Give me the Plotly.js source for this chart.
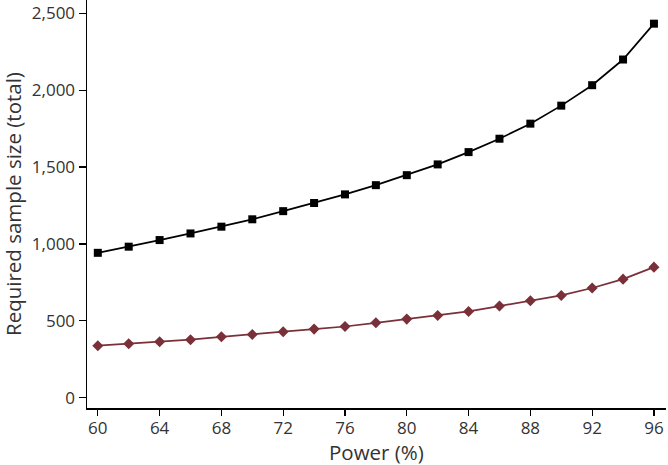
<!DOCTYPE html>
<html>
<head>
<meta charset="utf-8">
<script src="https://cdn.plot.ly/plotly-3.0.1.min.js"></script>
<style>html,body{margin:0;padding:0;background:#fff;}#chart{width:668px;height:465px;}</style>
</head>
<body>
<div id="chart"></div>
<script>
const power = [60, 62, 64, 66, 68, 70, 72, 74, 76, 78, 80, 82, 84, 86, 88, 90, 92, 94, 96];
const seriesA = [942, 982, 1025, 1068, 1112, 1160, 1213, 1266, 1322, 1382, 1447, 1517, 1597, 1684, 1782, 1899, 2032, 2199, 2432];
const seriesB = [338, 351, 364, 377, 396, 411, 429, 446, 463, 487, 511, 535, 561, 596, 630, 665, 713, 771, 849];
const xTicks = [60, 64, 68, 72, 76, 80, 84, 88, 92, 96];
const yTicks = [0, 500, 1000, 1500, 2000, 2500];
const xTitle = 'Power (%)';
const yTitle = 'Required sample size (total)';

const traces = [
  {x: power, y: seriesA, type: 'scatter', mode: 'lines+markers',
   line: {color: '#000000', width: 1.7},
   marker: {symbol: 'square', size: 8, color: '#000000'}},
  {x: power, y: seriesB, type: 'scatter', mode: 'lines+markers',
   line: {color: '#7a3038', width: 1.7},
   marker: {symbol: 'diamond', size: 8.5, color: '#7a3038'}}
];

const fam = '"Open Sans", "Noto Sans", sans-serif';
const tickFont = {family: fam, size: 17, color: '#333333'};
const titleFont = {family: fam, size: 20.5, color: '#333333'};
const W = 668, H = 465, L = 87, R = 2, T = 0, B = 57;
const pw = W - L - R, ph = H - T - B;
const layout = {
  width: W, height: H,
  margin: {l: L, r: R, t: T, b: B},
  paper_bgcolor: '#ffffff', plot_bgcolor: '#ffffff',
  showlegend: false,
  font: tickFont,
  xaxis: {
    range: [59.3, 96.78], tickvals: xTicks, ticktext: xTicks.map(String),
    showline: true, linecolor: '#000000', linewidth: 1.5,
    ticks: 'outside', ticklen: 6, tickwidth: 1.2, tickcolor: '#000000',
    ticklabelstandoff: -2,
    showgrid: false, zeroline: false, automargin: false,
    tickfont: tickFont
  },
  yaxis: {
    range: [-67, 2586], tickvals: yTicks, ticktext: yTicks.map(v => v.toLocaleString('en-US')),
    showline: true, linecolor: '#000000', linewidth: 1.5,
    ticks: 'outside', ticklen: 7, tickwidth: 1.2, tickcolor: '#000000',
    showgrid: false, zeroline: false, automargin: false,
    tickfont: tickFont
  },
  annotations: [
    {text: xTitle, xref: 'paper', yref: 'paper', x: 0.5, y: (ph - 452) / ph,
     xanchor: 'center', yanchor: 'middle', showarrow: false, font: titleFont, borderpad: 0},
    {text: yTitle, xref: 'paper', yref: 'paper', x: (13 - L) / pw, y: 0.5, textangle: -90,
     xanchor: 'center', yanchor: 'middle', showarrow: false, font: titleFont}
  ]
};

Plotly.newPlot('chart', traces, layout, {displayModeBar: false, staticPlot: true});
</script>
</body>
</html>
